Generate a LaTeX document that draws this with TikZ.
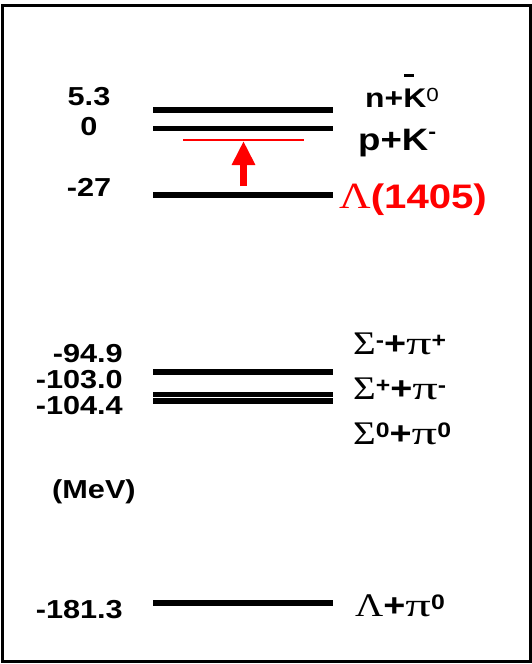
\documentclass[tikz,border=0pt]{standalone}
\usepackage{fontspec}
\setmainfont{Liberation Sans}[FakeStretch=1.18]
\newfontfamily\grk{Liberation Serif}[FakeStretch=1.18]
\usetikzlibrary{arrows.meta}

\newcommand{\Kbar}{\rlap{\kern1pt\raisebox{30pt}{\rule{10pt}{3.5pt}}}K}
\newcommand{\gr}[1]{{\grk\fontsize{33}{33}\selectfont\mdseries #1}}
\newcommand{\grpi}{\scalebox{1.3}[1]{\gr{π}}}
\newcommand{\sups}[1]{\raisebox{7pt}{\fontsize{21}{21}\selectfont #1}}

\begin{document}
\begin{tikzpicture}[x=1pt,y=-1pt,
  level/.style={line width=5.5pt},
  num/.style={font=\fontsize{26}{26}\selectfont\bfseries, inner sep=0pt},
  chan/.style={font=\fontsize{32}{32}\selectfont\bfseries, inner sep=0pt, anchor=base west},
  arr/.style={red, line width=7.5pt, -{Triangle[width=22pt,length=24pt]}},
]
  \useasboundingbox (0,0) rectangle (532,664);
  \draw[line width=2.7pt] (2.2,5.3) rectangle (530.3,661.8);

  % energy levels
  \foreach \name/\y in {nk/110, pk/128.5, lam/195, sm/372, sp/394.5, sz/401, lpi/603} {
    \coordinate (\name-l) at (153,\y);
    \coordinate (\name-r) at (333,\y);
    \draw[level] (\name-l) -- (\name-r);
  }

  % bound state and excitation
  \coordinate (red-l) at (183,140);
  \coordinate (red-r) at (304,140);
  \draw[red, line width=2.5pt] (red-l) -- (red-r);
  \coordinate (arr-s) at (243.5,186);
  \coordinate (arr-e) at (243.5,141);
  \draw[arr] (arr-s) -- (arr-e);

  % binding energies
  \node[num, anchor=base] (e-nk)  at (89,105) {5.3};
  \node[num, anchor=base] (e-pk)  at (89,135) {0};
  \node[num, anchor=base] (e-lam) at (89,196) {-27};
  \node[num, anchor=base east] (e-sm)  at (123,362) {-94.9};
  \node[num, anchor=base east] (e-sp)  at (123,388) {-103.0};
  \node[num, anchor=base east] (e-sz)  at (123,414) {-104.4};
  \node[num, anchor=base west] (unit)  at (52,498) {(MeV)};
  \node[num, anchor=base east] (e-lpi) at (123,618) {-181.3};

  % channels
  \node[chan, font=\fontsize{27}{27}\selectfont\bfseries] (c-nk) at (365,107)
    {n+\Kbar\raisebox{6pt}{\fontsize{19}{19}\selectfont\mdseries 0}};
  \node[chan, font=\fontsize{31}{31}\selectfont\bfseries] (c-pk) at (358,150)
    {p+K\raisebox{12pt}{\fontsize{20}{20}\selectfont -}};
  \node[chan, red, font=\fontsize{34}{34}\selectfont\bfseries] (c-lam) at (339,208)
    {{\grk\mdseries\fontsize{37}{37}\selectfont Λ}(1405)};
  \node[chan] (c-sm)  at (353,354) {\gr{Σ}\sups{-}+\grpi\sups{+}};
  \node[chan] (c-sp)  at (353,399) {\gr{Σ}\sups{+}+\grpi\sups{-}};
  \node[chan] (c-sz)  at (353,444) {\gr{Σ}\sups{0}+\grpi\sups{0}};
  \node[chan] (c-lpi) at (355,616) {\gr{Λ}+\grpi\sups{0}};
\end{tikzpicture}
\end{document}
